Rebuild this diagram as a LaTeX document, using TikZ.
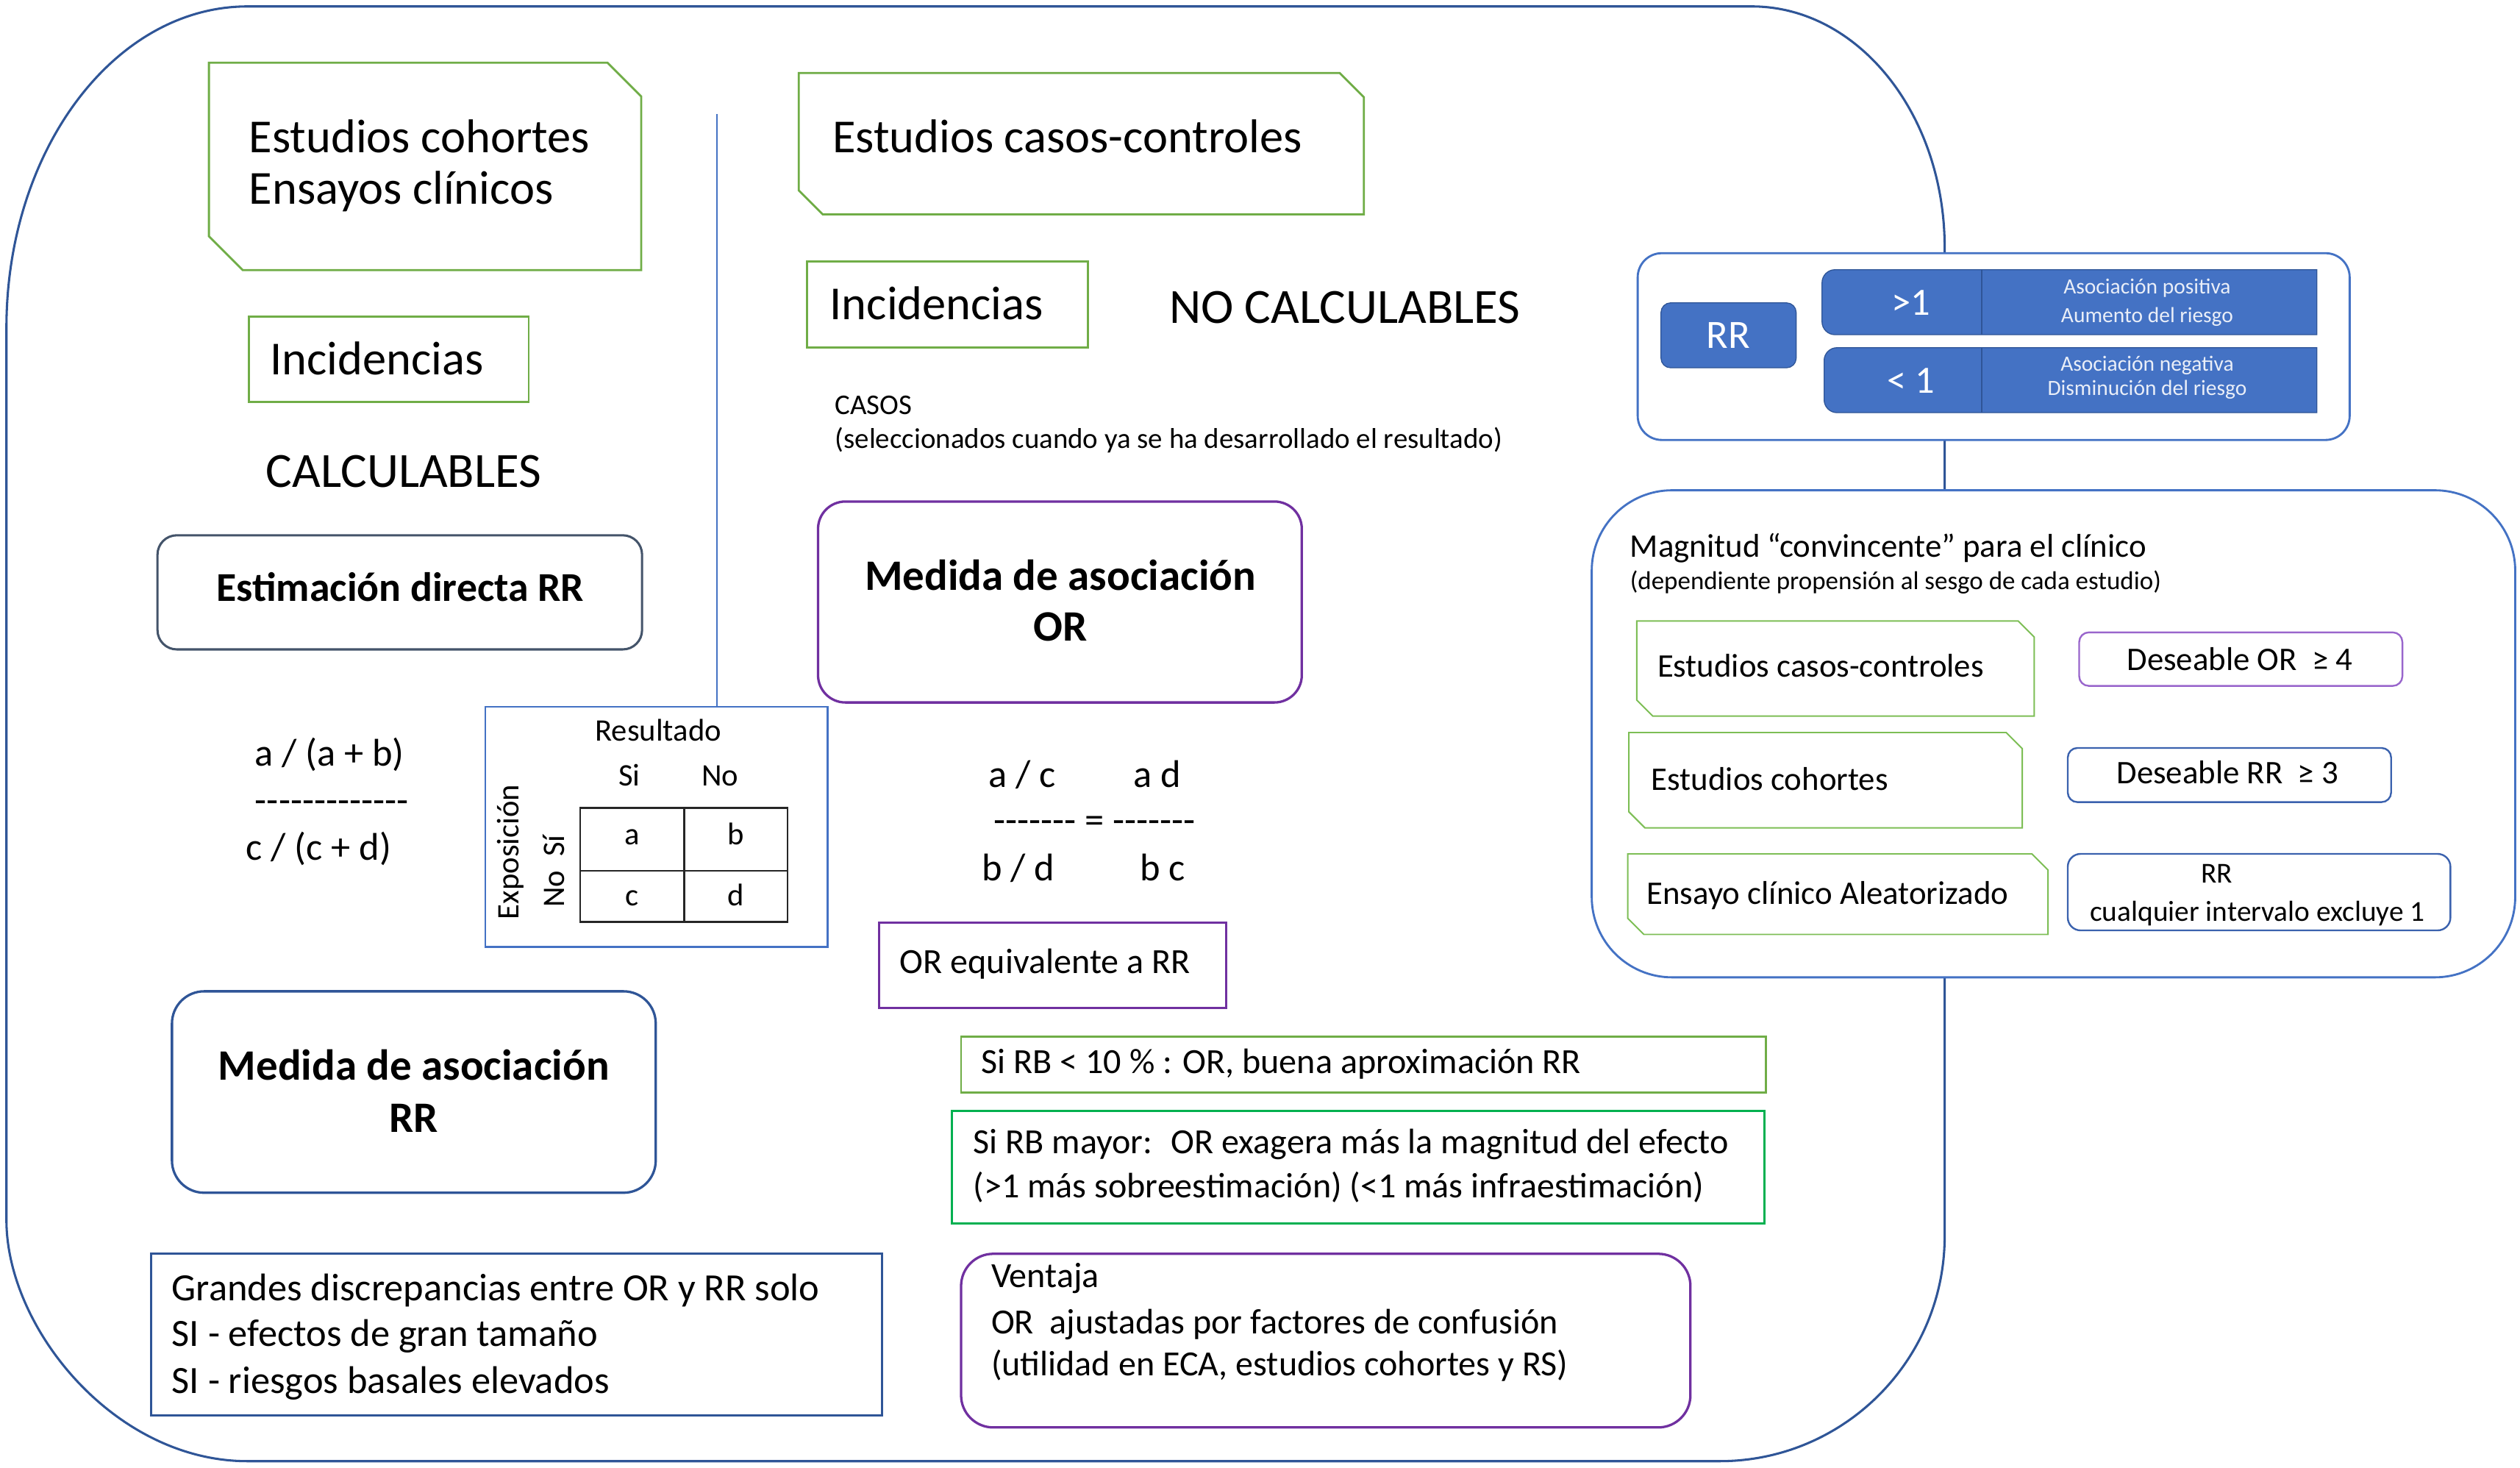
\documentclass[tikz,border=0pt]{standalone}
\usepackage{fontspec}
\setmainfont{Carlito}
\definecolor{dblue}{HTML}{2F5597}
\definecolor{mblue}{HTML}{4472C4}
\definecolor{bblue}{HTML}{3B62AE}
\definecolor{ogreen}{HTML}{70AD47}
\definecolor{bgreen}{HTML}{00B050}
\definecolor{lgreen}{HTML}{7DBE55}
\definecolor{purp}{HTML}{7030A0}
\definecolor{lpurp}{HTML}{9966CC}
\definecolor{slate}{HTML}{44546A}
\definecolor{legtext}{HTML}{E9EEF8}
\newcommand\snipbox[6]{\draw[#6] (#1,#2) -- ({#3-#5},#2) -- (#3,{#2+#5}) -- (#3,#4) -- ({#1+#5},#4) -- (#1,{#4-#5}) -- cycle;}
\newcommand\hy{-\kern0pt}
\tikzset{
  txt/.style={inner sep=0pt, outer sep=0pt},
  fBig/.style={font=\fontsize{29.5}{35}\selectfont},
  fCaps/.style={font=\fontsize{30.6}{36}\selectfont},
  fBold/.style={font=\fontsize{27}{32}\selectfont\bfseries},
  fMid/.style={font=\fontsize{24}{29}\selectfont},
  fTxt/.style={font=\fontsize{22}{26}\selectfont},
  fMag/.style={font=\fontsize{20.5}{24}\selectfont},
  fTab/.style={font=\fontsize{19.5}{23}\selectfont},
  fSm/.style={font=\fontsize{17.8}{21}\selectfont},
  fTiny/.style={font=\fontsize{13.5}{16}\selectfont},
  outline/.style={draw=dblue, line width=1.4pt},
  gbox/.style={draw=ogreen, line width=1.3pt},
  gthin/.style={draw=lgreen, line width=0.9pt},
  legbar/.style={fill=mblue, draw=dblue, line width=0.6pt},
}
\begin{document}
\begin{tikzpicture}[x=1pt,y=-1pt]
\useasboundingbox (0,0) rectangle (1568,913);
\fill[white] (0,0) rectangle (1568,913);

% big outline
\draw[outline] (4,204) .. controls (4,93.5) and (71.2,4) .. (154,4) -- (1090,4)
  .. controls (1156.3,4) and (1210,71.2) .. (1210,154) -- (1210,769)
  .. controls (1210,846.3) and (1147.3,909) .. (1070,909) -- (154,909)
  .. controls (71.2,909) and (4,826.2) .. (4,759) -- cycle;

% thin separator
\coordinate (septop) at (446,71);
\coordinate (sepbot) at (446,439.7);
\draw[mblue, line width=0.7pt] (septop) -- (sepbot);

% ---------- left column ----------
\snipbox{130}{39}{399}{168}{21}{gbox}
\node[txt,fBig,anchor=base west] (ec1) at (155,95) {Estudios cohortes};
\node[txt,fBig,anchor=base west] (ec2) at (155,127) {Ensayos clínicos};

\draw[gbox] (155,197) rectangle (329,250);
\node[txt,fBig,anchor=base west] (inc1) at (168,233) {Incidencias};

\node[txt,fCaps,anchor=base west] (calc) at (165.5,303) {CALCULABLES};

\draw[draw=slate, line width=1.4pt, rounded corners=12pt] (98,333) rectangle (399.5,404);
\node[txt,font=\fontsize{25.5}{30}\selectfont\bfseries,anchor=base] (estd) at (249,374) {Estimación directa RR};

\node[txt,fMid,anchor=base] (f1) at (204.9,476.6) {a / (a + b)};
\node[txt,fMid,anchor=base] (f2) at (206.5,506) {\hy\hy\hy\hy\hy\hy\hy\hy\hy\hy\hy\hy\hy};
\node[txt,fMid,anchor=base] (f3) at (198.4,535.3) {c / (c + d)};

% table
\draw[mblue, line width=1.1pt] (302,439.7) rectangle (515,589);
\node[txt,fTab,anchor=base] (res) at (409.6,461) {Resultado};
\node[txt,fTab,anchor=base] (si) at (391.7,488.7) {Si};
\node[txt,fTab,anchor=base] (no) at (448,488.7) {No};
\draw[black!85, line width=1.3pt] (361,502.5) rectangle (490,573.5)
  (425.6,502.5) -- (425.6,573.5) (361,541.7) -- (490,541.7);
\node[txt,fTab,anchor=base] (ca) at (393.3,525.3) {a};
\node[txt,fTab,anchor=base] (cb) at (457.8,525.3) {b};
\node[txt,fTab,anchor=base] (cc) at (393.3,563.6) {c};
\node[txt,fTab,anchor=base] (cd) at (457.8,563.6) {d};
\node[txt,fTab,rotate=90] (expo) at (317.6,530) {Exposición};
\node[txt,fTab,rotate=90] (nosi) at (344.7,542) {No~~Sí};

\draw[dblue, line width=1.5pt, rounded corners=20pt] (107,616.7) rectangle (408,742);
\node[txt,fBold,anchor=base] (mrr1) at (257.5,672) {Medida de asociación};
\node[txt,fBold,anchor=base] (mrr2) at (257.5,704.5) {RR};

\draw[dblue, line width=1.3pt] (94,780) rectangle (549,880.5);
\node[txt,fMid,anchor=base west] (g1) at (107,809) {Grandes discrepancias entre OR y RR solo};
\node[txt,fMid,anchor=base west] (g2) at (107,837.5) {SI - efectos de gran tamaño};
\node[txt,fMid,anchor=base west] (g3) at (107,867) {SI - riesgos basales elevados};

% ---------- middle column ----------
\snipbox{497}{45.4}{848.6}{133.4}{15}{gbox}
\node[txt,fBig,anchor=base west] (ecc) at (518,95) {Estudios casos-controles};

\draw[gbox] (502,162.8) rectangle (676.8,216);
\node[txt,fBig,anchor=base west] (inc2) at (516.4,199) {Incidencias};
\node[txt,fCaps,anchor=base west] (nocalc) at (727.6,201) {NO CALCULABLES};

\node[txt,fSm,anchor=base west] (casos1) at (519.6,257.8) {CASOS};
\node[txt,fSm,anchor=base west] (casos2) at (519.6,278.8) {(seleccionados cuando ya se ha desarrollado el resultado)};

\draw[purp, line width=1.5pt, rounded corners=17pt] (509,312) rectangle (810,437);
\node[txt,fBold,anchor=base] (mor1) at (659.8,367.3) {Medida de asociación};
\node[txt,fBold,anchor=base] (mor2) at (659.8,398.8) {OR};

\node[txt,fMid,anchor=base] (o1) at (636,489.9) {a / c};
\node[txt,fMid,anchor=base] (o2) at (720,489.9) {a d};
\node[txt,fMid,anchor=base] (o3) at (681,518) {\hy\hy\hy\hy\hy\hy\hy{} = \hy\hy\hy\hy\hy\hy\hy};
\node[txt,fMid,anchor=base] (o4) at (633.5,548) {b / d};
\node[txt,fMid,anchor=base] (o5) at (723.5,548) {b c};

\draw[purp, line width=1.3pt] (547,574) rectangle (763,627);
\node[txt,fTxt,anchor=base west] (oreq) at (560,605.4) {OR equivalente a RR};

\draw[gbox] (598,645) rectangle (1098.8,679.8);
\node[txt,fTxt,anchor=base west] (rb1) at (610.6,667.7) {Si RB < 10 \% : OR, buena aproximación RR};

\draw[bgreen, line width=1.3pt] (592.3,691.2) rectangle (1098,761.3);
\node[txt,fTxt,anchor=base west] (rb2) at (605.6,717.6) {Si RB mayor:~ OR exagera más la magnitud del efecto};
\node[txt,fTxt,anchor=base west] (rb3) at (605.6,745) {(>1 más sobreestimación) (<1 más infraestimación)};

\draw[purp, line width=1.5pt, rounded corners=20pt] (598,780) rectangle (1051.8,888);
\node[txt,fTxt,anchor=base west] (v1) at (616.8,800.7) {Ventaja};
\node[txt,fTxt,anchor=base west] (v2) at (616.8,829.6) {OR~ ajustadas por factores de confusión};
\node[txt,fTxt,anchor=base west] (v3) at (616.8,855.6) {(utilidad en ECA, estudios cohortes y RS)};

% ---------- right: RR legend ----------
\draw[fill=white, draw=mblue, line width=1.3pt, rounded corners=15pt] (1019,157.5) rectangle (1462,273.7);
\draw[legbar, rounded corners=6pt] (1033.5,188.4) rectangle (1117.6,228.8);
\node[txt,font=\fontsize{25}{30}\selectfont,text=white] (rrl) at (1075.5,208.6) {RR};

\draw[legbar] (1441.6,167.8) -- (1141.7,167.8) .. controls (1137.3,167.8) and (1133.7,171.4) .. (1133.7,175.8)
  -- (1133.7,200.2) .. controls (1133.7,204.6) and (1137.3,208.2) .. (1141.7,208.2) -- (1441.6,208.2) -- cycle;
\draw[dblue, line width=0.8pt] (1233.2,167.8) -- (1233.2,208.2);
\draw[legbar] (1441.6,216.3) -- (1143,216.3) .. controls (1138.6,216.3) and (1135,219.9) .. (1135,224.3)
  -- (1135,248.7) .. controls (1135,253.1) and (1138.6,256.7) .. (1143,256.7) -- (1441.6,256.7) -- cycle;
\draw[dblue, line width=0.8pt] (1233.2,216.3) -- (1233.2,256.7);
\node[txt,font=\fontsize{24}{28}\selectfont,text=white] (gt1) at (1189,188.3) {>1};
\node[txt,font=\fontsize{24}{28}\selectfont,text=white] (lt1) at (1189,236.8) {< 1};
\node[txt,fTiny,text=legtext,anchor=base] (ap) at (1336,183) {Asociación positiva};
\node[txt,fTiny,text=legtext,anchor=base] (ar) at (1336,200.6) {Aumento del riesgo};
\node[txt,fTiny,text=legtext,anchor=base] (an) at (1336,231) {Asociación negativa};
\node[txt,fTiny,text=legtext,anchor=base] (dr) at (1336,246) {Disminución del riesgo};

% ---------- right: Magnitud ----------
\draw[fill=white, draw=mblue, line width=1.3pt, rounded corners=50pt] (990.4,305) rectangle (1565,608);
\node[txt,fMag,anchor=base west] (mag1) at (1014.3,346.5) {Magnitud “convincente” para el clínico};
\node[txt,font=\fontsize{16}{19}\selectfont,anchor=base west] (mag2) at (1014.3,366.8) {(dependiente propensión al sesgo de cada estudio)};

\snipbox{1018.4}{386.3}{1265.7}{445.5}{10}{gthin}
\node[txt,fMag,anchor=base west] (m1) at (1031.3,421) {Estudios casos-controles};
\snipbox{1013.5}{455.7}{1258.3}{515}{10}{gthin}
\node[txt,fMag,anchor=base west] (m2) at (1027.6,491.4) {Estudios cohortes};
\snipbox{1012.8}{531.2}{1274.3}{581.3}{10}{gthin}
\node[txt,fMag,anchor=base west] (m3) at (1024.7,562.5) {Ensayo clínico Aleatorizado};

\draw[lpurp, line width=1.1pt, rounded corners=6pt] (1293.7,393.4) rectangle (1494.8,426.7);
\node[txt,fMag,anchor=base] (dor) at (1393.6,416.9) {Deseable OR~ ≥ 4};
\draw[bblue, line width=1.1pt, rounded corners=6pt] (1286.6,465.3) rectangle (1487.8,499);
\node[txt,fMag,anchor=base] (drr) at (1386,487.3) {Deseable RR~ ≥ 3};
\draw[bblue, line width=1.1pt, rounded corners=8pt] (1286.6,531.2) rectangle (1524.7,578.8);
\node[txt,font=\fontsize{18}{21}\selectfont,anchor=base] (rr3a) at (1379.4,549.5) {RR};
\node[txt,font=\fontsize{18}{21}\selectfont,anchor=base] (rr3b) at (1404.6,573.2) {cualquier intervalo excluye 1};
\end{tikzpicture}
\end{document}
